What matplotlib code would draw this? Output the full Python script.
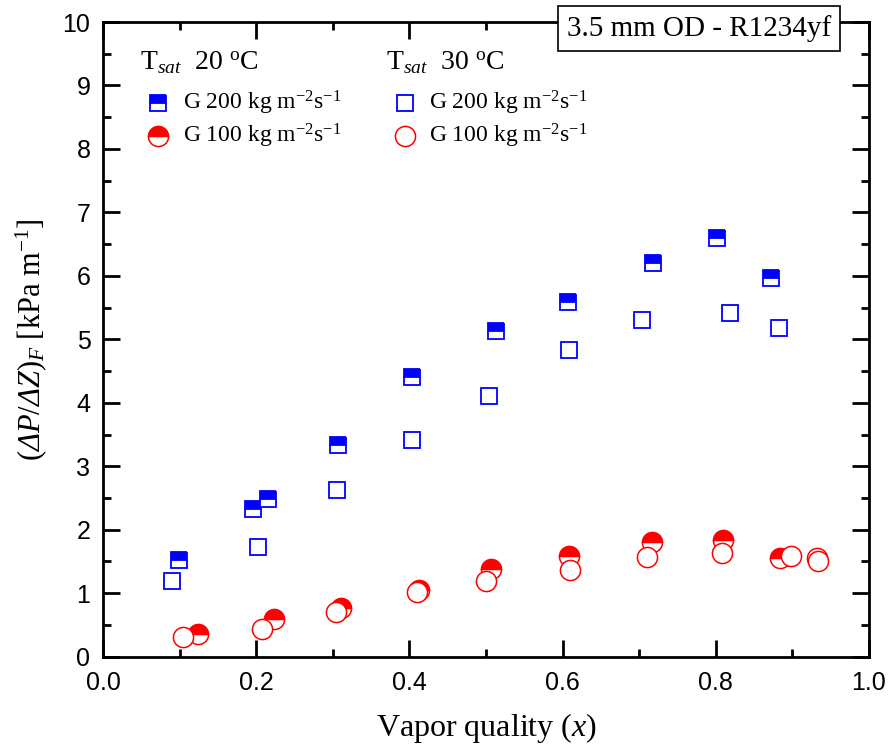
import matplotlib
matplotlib.use("Agg")
import matplotlib.pyplot as plt
from matplotlib.ticker import MultipleLocator

plt.rcParams["font.family"] = ["Liberation Serif", "DejaVu Serif"]
plt.rcParams["mathtext.fontset"] = "custom"
plt.rcParams["mathtext.rm"] = "Liberation Serif"
plt.rcParams["mathtext.it"] = "Liberation Serif:italic"
plt.rcParams["mathtext.bf"] = "Liberation Serif:bold"
# sf slot used for the italic Greek capital Delta
plt.rcParams["mathtext.sf"] = "Liberation Serif:italic"

# Tsat 20 C, G 200 (half filled squares)
x20_g200 = [0.099, 0.196, 0.215, 0.307, 0.403, 0.513, 0.607, 0.718, 0.801, 0.872]
y20_g200 = [1.53, 2.33, 2.49, 3.34, 4.41, 5.13, 5.59, 6.20, 6.60, 5.97]
# Tsat 30 C, G 200 (open squares)
x30_g200 = [0.090, 0.203, 0.305, 0.403, 0.504, 0.609, 0.704, 0.818, 0.883]
y30_g200 = [1.19, 1.73, 2.62, 3.41, 4.10, 4.83, 5.30, 5.41, 5.18]
# Tsat 20 C, G 100 (half filled circles)
x20_g100 = [0.124, 0.223, 0.311, 0.412, 0.506, 0.609, 0.717, 0.809, 0.884]
y20_g100 = [0.35, 0.60, 0.76, 1.05, 1.38, 1.59, 1.80, 1.84, 1.56]
# Tsat 30 C, G 100 (open circles)
x30_g100 = [0.104, 0.207, 0.304, 0.410, 0.500, 0.610, 0.710, 0.808, 0.898, 0.932, 0.933]
y30_g100 = [0.31, 0.44, 0.71, 1.02, 1.19, 1.36, 1.57, 1.64, 1.58, 1.55, 1.50]

blue = "#0000ff"
red = "#ff0000"

fig = plt.figure(figsize=(8.9, 7.51), dpi=100)
ax = fig.add_axes([0.1157, 0.1256, 0.8607, 0.8451])

sq = dict(marker="s", ms=12, mew=1.3, ls="none", color=blue)
ci = dict(marker="o", ms=14.5, mew=1.1, ls="none", color=red)

ax.plot(x20_g200, y20_g200, fillstyle="top", markerfacecoloralt="white", zorder=3, **sq)
ax.plot(x30_g200, y30_g200, mfc="white", zorder=4, **sq)
ax.plot(x20_g100, y20_g100, fillstyle="top", markerfacecoloralt="white", zorder=3, **ci)
ax.plot(x30_g100, y30_g100, mfc="white", zorder=4, **ci)

ax.set_xlim(0, 1)
ax.set_ylim(0, 10)
ax.xaxis.set_major_locator(MultipleLocator(0.2))
ax.xaxis.set_minor_locator(MultipleLocator(0.1))
ax.yaxis.set_major_locator(MultipleLocator(1))
ax.yaxis.set_minor_locator(MultipleLocator(0.5))
ax.xaxis.set_major_formatter(matplotlib.ticker.FormatStrFormatter("%.1f"))
ax.tick_params(which="both", direction="in", top=True, right=True, width=2, labelsize=18)
ax.tick_params(which="major", length=12)
ax.tick_params(axis="x", which="major", pad=10)
ax.tick_params(axis="y", which="major", pad=9)
ax.tick_params(which="minor", length=6)
for lab in ax.get_xticklabels() + ax.get_yticklabels():
    lab.set_family(["Liberation Sans", "DejaVu Sans"])
for s in ax.spines.values():
    s.set_linewidth(2)

ax.set_xlabel(r"Vapor quality ($x$)", fontsize=23, labelpad=12)
ax.set_ylabel(r"$(\mathsf{\Delta}P/\mathsf{\Delta}Z)_F$ [kPa m$^{-1}$]", fontsize=22, labelpad=10)

# legend built by hand
tr = ax.transAxes
ax.text(0.048, 0.935, r"T$_{\mathit{sat}}$  20 $^{\rm o}$C", transform=tr, fontsize=20, va="center")
ax.text(0.369, 0.935, r"T$_{\mathit{sat}}$  30 $^{\rm o}$C", transform=tr, fontsize=20, va="center")
rows = [0.872, 0.820]
labels = [r"G 200 kg m$^{-2}$s$^{-1}$", r"G 100 kg m$^{-2}$s$^{-1}$"]
ax.plot([0.072], [rows[0]], transform=tr, fillstyle="top", markerfacecoloralt="white", clip_on=False, **sq)
ax.plot([0.072], [rows[1]], transform=tr, fillstyle="top", markerfacecoloralt="white", clip_on=False, **ci)
ax.plot([0.394], [rows[0]], transform=tr, mfc="white", clip_on=False, **sq)
ax.plot([0.394], [rows[1]], transform=tr, mfc="white", clip_on=False, **ci)
for xt in (0.104, 0.426):
    for r, lab in zip(rows, labels):
        ax.text(xt, r, lab, transform=tr, fontsize=17, va="center")

ax.text(0.778, 0.990, "3.5 mm OD - R1234yf", transform=tr, fontsize=21, ha="center", va="center",
        bbox=dict(boxstyle="square,pad=0.3", fc="white", ec="black", lw=1.2), zorder=10)

fig.savefig("out.png", dpi=100)
